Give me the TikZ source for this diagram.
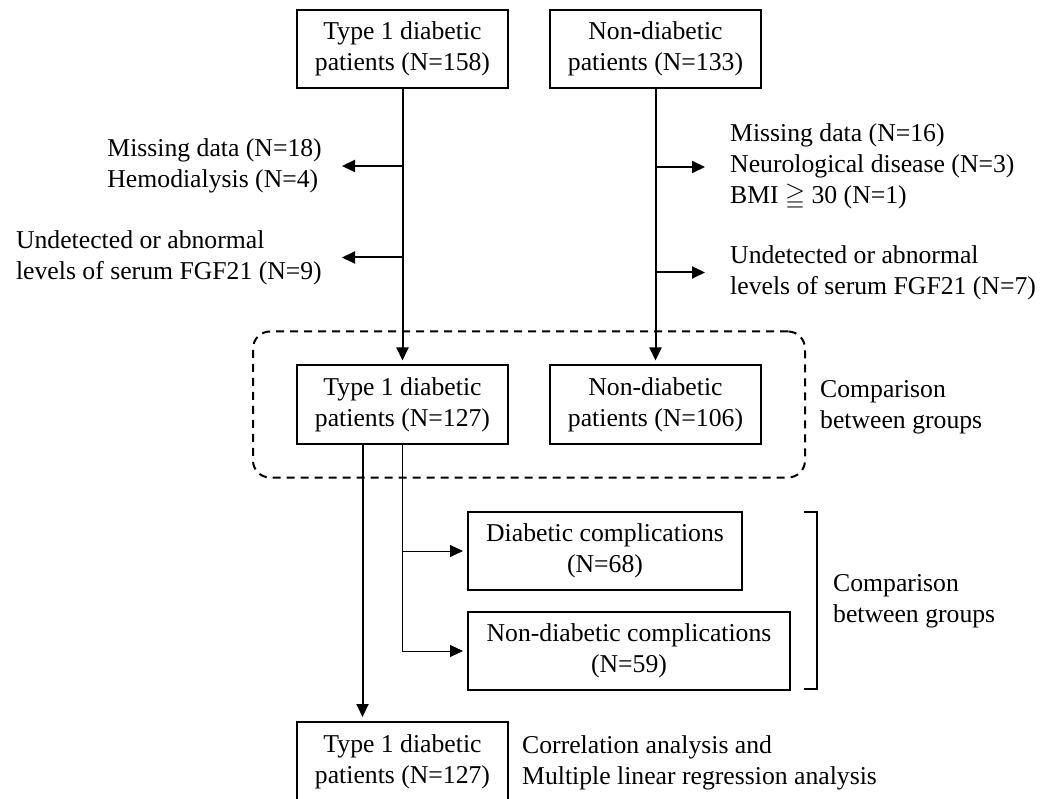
\documentclass[tikz,border=0pt]{standalone}
\usepackage{amssymb}
\usepackage{fontspec}
\setmainfont{Liberation Serif}
\usetikzlibrary{positioning,fit,backgrounds,arrows.meta}
\tikzset{patient box/.style={rectangle,draw,line width=2pt,minimum width=211pt,
                             minimum height=78pt,align=center,inner sep=2pt},
         flow arrow/.style={line width=2pt,shorten >=4pt,
                             -{Triangle[length=13pt,width=12pt]}}}

\begin{document}
\begin{tikzpicture}[x=1pt,y=-1pt,font=\fontsize{25.7}{31}\selectfont]
\useasboundingbox (0,0) rectangle (1052,799);

\node[patient box] (T1) at (402.5,49) {Type 1 diabetic\\patients (N=158)};
\node[patient box,right=40pt of T1] (N1) {Non-diabetic\\patients (N=133)};

\node[patient box] (T2) at (402.5,404.5) {Type 1 diabetic\\patients (N=127)};
\node[patient box,right=40pt of T2] (N2) {Non-diabetic\\patients (N=106)};

\node[patient box,minimum width=274pt] (DC) at (605,551) {Diabetic complications\\(N=68)};
\node[patient box,minimum width=322pt] (NC) at (629,651) {Non-diabetic complications\\(N=59)};

\node[patient box,minimum height=80pt] (T3) at (402.5,762) {Type 1 diabetic\\patients (N=127)};

% excluded on each side
\node[anchor=east,align=left,inner xsep=16pt,inner ysep=0pt] (M1) at (338,166)
    {Missing data (N=18)\\Hemodialysis (N=4)};
\node[anchor=east,align=left,inner xsep=16pt,inner ysep=0pt] (M2) at (338,257.5)
    {Undetected or abnormal\\levels of serum FGF21 (N=9)};
\node[anchor=west,align=left,inner xsep=21pt,inner ysep=0pt] (R1) at (709,167)
    {Missing data (N=16)\\Neurological disease (N=3)\\BMI $\geqq$ 30 (N=1)};
\node[anchor=west,align=left,inner xsep=21pt,inner ysep=0pt] (R2) at (709,272.5)
    {Undetected or abnormal\\levels of serum FGF21 (N=7)};

\node[anchor=west,align=left,inner sep=0pt] (G1) at (820,407) {Comparison\\between groups};
\node[anchor=west,align=left,inner sep=0pt] (G2) at (833,601) {Comparison\\between groups};
\node[anchor=west,align=left,inner sep=0pt] (CA) at (522,763)
    {Correlation analysis and\\Multiple linear regression analysis};

\begin{scope}[on background layer]
\node[draw,line width=2pt,dash pattern=on 8pt off 6pt,rounded corners=17pt,
      inner xsep=43pt,inner ysep=33pt,fit=(T2) (N2)] (GG1) {};
\end{scope}

\draw[flow arrow] (T1) -- (T2);
\draw[flow arrow] (N1) -- (N2);
\draw[flow arrow] (T1.south |- M1.east) -- (M1.east);
\draw[flow arrow] (T1.south |- M2.east) -- (M2.east);
\draw[flow arrow] (N1.south |- R1.west) -- (R1.west);
\draw[flow arrow] (N1.south |- R2.west) -- (R2.west);
\draw[flow arrow] ([xshift=-40pt]T2.south) -- ([xshift=-40pt]T3.north);
\draw[flow arrow,line width=1pt] (T2.south) |- (DC.west);
\draw[flow arrow,line width=1pt] (T2.south) |- (NC.west);

\draw[line width=2pt] (804,512) -| (817,689) -- (804,689);

\end{tikzpicture}
\end{document}
